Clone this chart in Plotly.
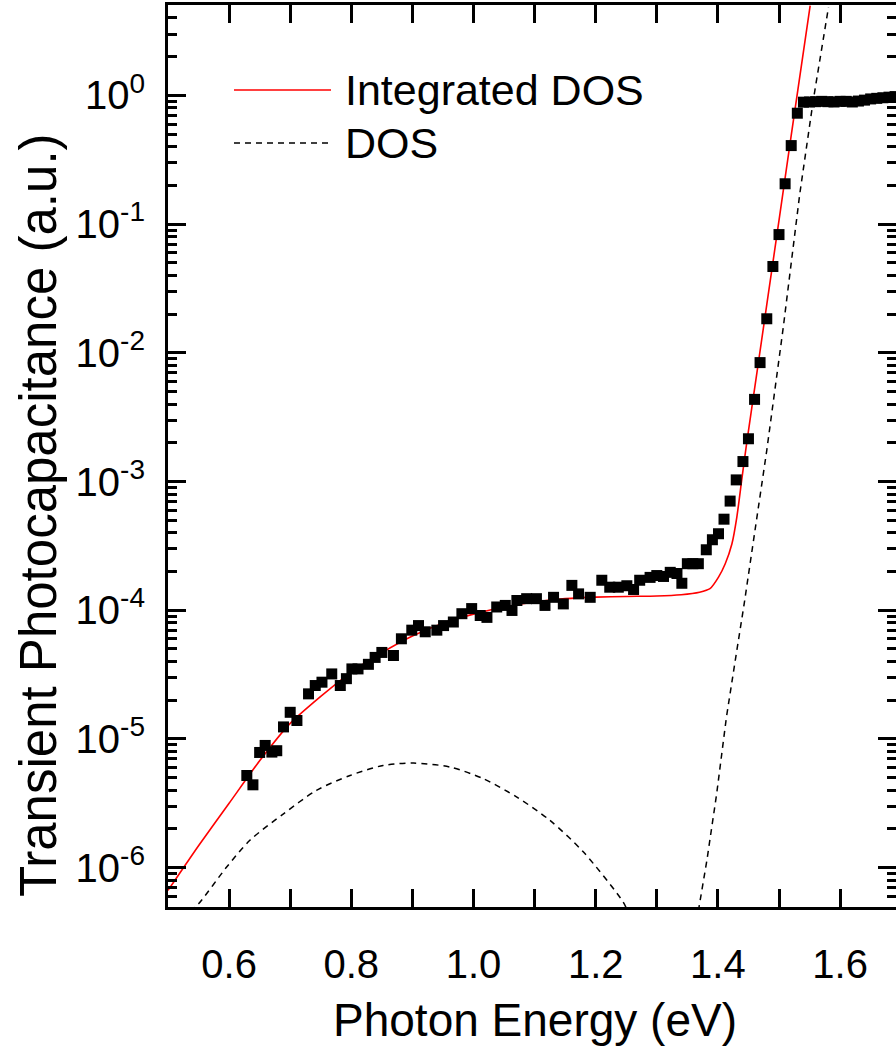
import plotly.graph_objects as go

# ---- measured data (photon energy eV, transient photocapacitance a.u.) ----
data_x = [0.629, 0.639, 0.650, 0.659, 0.670, 0.678, 0.689, 0.700, 0.711, 0.730,
          0.741, 0.752, 0.768, 0.782, 0.792, 0.801, 0.811, 0.828, 0.839, 0.850,
          0.869, 0.882, 0.899, 0.910, 0.921, 0.940, 0.951, 0.967, 0.981, 0.997,
          1.011, 1.022, 1.038, 1.052, 1.063, 1.071, 1.087, 1.103, 1.117, 1.131,
          1.147, 1.161, 1.172, 1.191, 1.210, 1.223, 1.237, 1.251, 1.262, 1.272,
          1.289, 1.300, 1.311, 1.322, 1.333, 1.341, 1.350, 1.359, 1.368, 1.381,
          1.391, 1.401, 1.410, 1.420, 1.430, 1.441, 1.450, 1.460, 1.469, 1.480,
          1.490, 1.500, 1.510, 1.520, 1.530, 1.540, 1.550, 1.560, 1.570, 1.580,
          1.590, 1.600, 1.610, 1.620, 1.630, 1.640, 1.650, 1.660, 1.670, 1.680,
          1.690]
data_y = [5.2e-6, 4.4e-6, 7.85e-6, 8.9e-6, 7.9e-6, 8.1e-6, 1.24e-5, 1.61e-5, 1.39e-5, 2.24e-5,
          2.6e-5, 2.76e-5, 3.2e-5, 2.6e-5, 2.94e-5, 3.5e-5, 3.5e-5, 3.8e-5, 4.3e-5, 4.7e-5,
          4.45e-5, 6.0e-5, 7.0e-5, 7.6e-5, 6.8e-5, 7.0e-5, 7.6e-5, 8.1e-5, 9.4e-5, 1.03e-4,
          9.1e-5, 8.8e-5, 1.06e-4, 1.09e-4, 9.96e-5, 1.19e-4, 1.23e-4, 1.23e-4, 1.09e-4, 1.26e-4,
          1.12e-4, 1.56e-4, 1.34e-4, 1.26e-4, 1.71e-4, 1.51e-4, 1.51e-4, 1.55e-4, 1.45e-4, 1.71e-4,
          1.80e-4, 1.86e-4, 1.83e-4, 1.97e-4, 1.93e-4, 1.62e-4, 2.3e-4, 2.3e-4, 2.3e-4, 2.95e-4,
          3.53e-4, 3.93e-4, 5.1e-4, 7.05e-4, 1.03e-3, 1.43e-3, 2.15e-3, 4.35e-3, 8.4e-3, 1.84e-2,
          4.69e-2, 8.3e-2, 0.206, 0.408, 0.728, 0.887, 0.89, 0.895, 0.90, 0.895,
          0.89, 0.90, 0.90, 0.89, 0.905, 0.92, 0.94, 0.95, 0.96, 0.97,
          0.98]

# ---- Integrated DOS fit (red line) ----
idos_x = [0.500, 0.550, 0.600, 0.650, 0.700, 0.750, 0.800, 0.850, 0.900, 0.950,
          1.000, 1.050, 1.100, 1.150, 1.200, 1.250, 1.300, 1.340, 1.370, 1.387,
          1.401, 1.412, 1.423, 1.431, 1.439, 1.447, 1.464, 1.480, 1.500, 1.520,
          1.551]
idos_y = [6.65e-7, 1.48e-6, 3.16e-6, 6.76e-6, 1.32e-5, 2.14e-5, 3.31e-5, 4.68e-5, 6.31e-5, 7.94e-5,
          9.33e-5, 1.06e-4, 1.16e-4, 1.23e-4, 1.265e-4, 1.28e-4, 1.29e-4, 1.32e-4, 1.38e-4, 1.47e-4,
          1.81e-4, 2.30e-4, 3.29e-4, 5.30e-4, 1.03e-3, 1.97e-3, 7.08e-3, 2.37e-2, 0.107, 0.49,
          5.0]

# ---- DOS (dashed): defect band + band tail ----
dos_band_x = [0.536, 0.550, 0.596, 0.634, 0.689, 0.743, 0.798, 0.852, 0.902, 0.962,
              1.016, 1.071, 1.125, 1.180, 1.245, 1.252]
dos_band_y = [4.6e-7, 5.24e-7, 1.01e-6, 1.63e-6, 2.62e-6, 3.98e-6, 5.2e-6, 6.22e-6, 6.49e-6, 6.04e-6,
              4.91e-6, 3.53e-6, 2.33e-6, 1.32e-6, 5.4e-7, 4.6e-7]
dos_tail_x = [1.368, 1.382, 1.398, 1.414, 1.431, 1.443, 1.480, 1.507, 1.534, 1.556, 1.581]
dos_tail_y = [4.6e-7, 1.14e-6, 3.75e-6, 1.48e-5, 4.88e-5, 1.12e-4, 1.75e-3, 1.58e-2, 0.172, 0.914, 4.85]

y_tickvals = [1e-6, 1e-5, 1e-4, 1e-3, 1e-2, 1e-1, 1e0]
y_ticktext = ["10<sup>-6</sup>", "10<sup>-5</sup>", "10<sup>-4</sup>", "10<sup>-3</sup>",
              "10<sup>-2</sup>", "10<sup>-1</sup>", "10<sup>0</sup>"]
x_tickvals = [0.6, 0.8, 1.0, 1.2, 1.4, 1.6]
x_ticktext = ["0.6", "0.8", "1.0", "1.2", "1.4", "1.6"]

legend_labels = ["Integrated DOS", "DOS"]

FONT = "Liberation Sans, Arial, sans-serif"
W, H = 896, 1048
ML, MT, MB, MR = 168, 5, 141, 0
PW, PH = W - ML - MR, H - MT - MB
Y_RANGE = [-6.306, 0.703]


def px_to_paper(px, py):
    return (px - ML) / PW, (H - MB - py) / PH


fig = go.Figure()
fig.add_trace(go.Scatter(x=dos_band_x, y=dos_band_y, mode="lines", showlegend=False,
                         line=dict(color="black", width=1.5, dash="6px,5px",
                                   shape="spline", smoothing=0.8)))
fig.add_trace(go.Scatter(x=dos_tail_x, y=dos_tail_y, mode="lines", showlegend=False,
                         line=dict(color="black", width=1.5, dash="6px,5px")))
fig.add_trace(go.Scatter(x=idos_x, y=idos_y, mode="lines", showlegend=False,
                         line=dict(color="#ff0000", width=1.6, shape="spline", smoothing=0.6)))
fig.add_trace(go.Scatter(x=data_x, y=data_y, mode="markers", showlegend=False,
                         marker=dict(symbol="square", size=11, color="black",
                                     line=dict(width=0))))
# invisible anchor trace for the right-hand tick axis
fig.add_trace(go.Scatter(x=[1.0], y=[1e-3], yaxis="y2", mode="markers", showlegend=False,
                         hoverinfo="skip", marker=dict(opacity=0)))

tickfont = dict(family=FONT, size=40, color="black")

fig.update_layout(
    xaxis=dict(range=[0.5, 0.5 + PW / 611.0], tickvals=x_tickvals, ticktext=x_ticktext,
               showline=True, linecolor="black", linewidth=3, mirror="allticks",
               ticks="inside", tickcolor="black", tickwidth=3, ticklen=18,
               minor=dict(ticks="inside", ticklen=10, tickwidth=3, tickcolor="black",
                          dtick=0.1, tick0=0.5, showgrid=False),
               showgrid=False, zeroline=False, tickfont=tickfont, ticklabelstandoff=20),
    yaxis=dict(type="log", range=Y_RANGE, tickvals=y_tickvals, ticktext=y_ticktext,
               showline=True, linecolor="black", linewidth=3, mirror=False,
               ticks="inside", tickcolor="black", tickwidth=3, ticklen=18,
               minor=dict(ticks="inside", ticklen=9, tickwidth=2.5, tickcolor="black",
                          dtick="D1", showgrid=False),
               showgrid=False, zeroline=False, tickfont=tickfont, ticklabelstandoff=12),
    yaxis2=dict(type="log", range=Y_RANGE, overlaying="y", side="right", anchor="x",
                tickvals=y_tickvals, showticklabels=False, showline=False,
                ticks="inside", tickcolor="black", tickwidth=3, ticklen=18,
                minor=dict(ticks="inside", ticklen=9, tickwidth=2.5, tickcolor="black",
                           dtick="D1", showgrid=False),
                showgrid=False, zeroline=False),
)

annotations = [
    dict(text="Photon Energy (eV)", xref="paper", yref="paper",
         x=px_to_paper(535, 0)[0], y=px_to_paper(0, 1020)[1],
         showarrow=False, xanchor="center", yanchor="middle",
         font=dict(family=FONT, size=46, color="black")),
    dict(text="Transient Photocapacitance (a.u.)", xref="paper", yref="paper",
         x=px_to_paper(38, 0)[0], y=px_to_paper(0, 515)[1], textangle=-90,
         showarrow=False, xanchor="center", yanchor="middle",
         font=dict(family=FONT, size=51, color="black")),
]
for lbl, py in zip(legend_labels, [90, 143]):
    annotations.append(dict(text=lbl, xref="paper", yref="paper",
                            x=px_to_paper(343, 0)[0], y=px_to_paper(0, py)[1],
                            showarrow=False, xanchor="left", yanchor="middle",
                            font=dict(family=FONT, size=43, color="black")))

shapes = [
    dict(type="line", xref="paper", yref="paper",
         x0=px_to_paper(234, 0)[0], x1=px_to_paper(331, 0)[0],
         y0=px_to_paper(0, 90)[1], y1=px_to_paper(0, 90)[1],
         line=dict(color="#ff0000", width=1.6)),
    dict(type="line", xref="paper", yref="paper",
         x0=px_to_paper(234, 0)[0], x1=px_to_paper(331, 0)[0],
         y0=px_to_paper(0, 143)[1], y1=px_to_paper(0, 143)[1],
         line=dict(color="black", width=1.5, dash="6px,5px")),
]

fig.update_layout(width=W, height=H, margin=dict(l=ML, r=MR, t=MT, b=MB, pad=0),
                  plot_bgcolor="white", paper_bgcolor="white",
                  annotations=annotations, shapes=shapes, showlegend=False)

fig.write_html("out.html")
